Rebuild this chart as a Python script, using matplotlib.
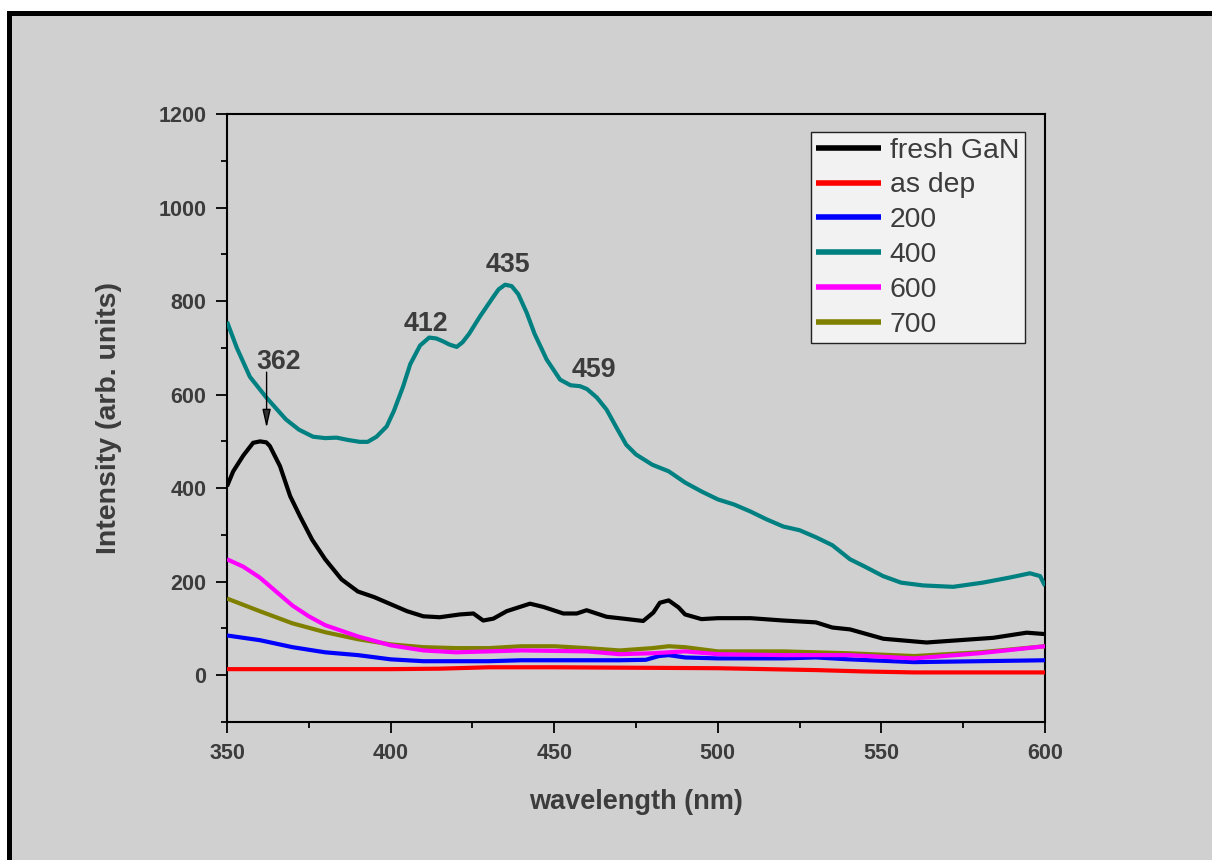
import matplotlib
matplotlib.use("Agg")
import matplotlib.pyplot as plt
from matplotlib.patches import Rectangle
from matplotlib.ticker import MultipleLocator

# ---------------- data ----------------
wl_fresh = [350, 351.9, 355, 358, 360.1, 362, 363.1, 366.2, 369.3, 372.3, 376, 380, 385, 390, 395, 400,
            405, 410, 415, 421.2, 425.3, 428.3, 431.4, 435.5, 442.6, 446.7, 452.8, 456.9, 459.9,
            466, 471.1, 477.2, 480.3, 482.3, 485, 488, 490, 495, 500, 510, 520, 530, 535, 540.4,
            550.6, 563.8, 574, 584.2, 594.4, 600]
I_fresh = [404, 436, 470, 497, 500, 498, 490, 447, 383, 340, 290, 248, 205, 179, 167, 152,
           137, 126, 124, 130, 132, 117, 121, 137, 153, 146, 132, 132, 139,
           125, 121, 116, 134, 155, 160, 145, 130, 120, 122, 122, 117, 113, 102, 98,
           78, 70, 75, 80, 91, 88]

wl_asdep = [350, 375, 400, 415, 430, 450, 475, 500, 515, 530, 545, 560, 580, 600]
I_asdep = [13, 13, 13, 14, 17, 17, 16, 15, 13, 11, 8, 6, 6, 6]

wl_200 = [350, 360, 370, 380, 390, 400, 410, 420, 430, 440, 450, 470, 478, 482, 485, 490,
          500, 520, 530, 540, 560, 580, 600]
I_200 = [85, 75, 60, 49, 43, 34, 30, 30, 30, 32, 32, 32, 33, 41, 43, 38,
         36, 36, 38, 34, 28, 30, 32]

wl_400 = [350, 353, 357, 362, 368, 372, 376.3, 380, 383.5, 387, 390.6, 393, 395.7, 398.8, 401,
          403.8, 406, 409, 411.8, 414, 416, 418, 420.2, 422, 424, 427.3, 431, 433, 435, 437, 439,
          441.6, 444, 447.7, 451.8, 455, 457.9, 460, 463, 466, 469, 472, 475, 480, 485, 490,
          495, 500, 505, 510, 515, 520, 525, 530, 535, 540.4, 545, 550.5, 556, 562.7, 571.9, 581,
          589.3, 595.4, 598.5, 600]
I_400 = [756, 700, 638, 594, 547, 525, 510, 507, 508, 503, 499, 499, 510, 532, 565,
         617, 665, 705, 722, 720, 714, 707, 702, 712, 730, 767, 805, 825, 835, 832, 815,
         775, 730, 675, 632, 620, 618, 612, 594, 568, 530, 493, 472, 450, 436, 412,
         393, 376, 365, 350, 333, 318, 310, 295, 278, 248, 232, 212, 198, 192, 189, 198,
         209, 218, 212, 191]

wl_600 = [350, 355, 360, 365, 370, 375, 380, 390, 400, 410, 420, 440, 460, 470, 480, 490,
          500, 520, 540, 560, 580, 600]
I_600 = [248, 232, 209, 179, 149, 126, 107, 83, 64, 53, 49, 53, 51, 45, 47, 51,
         45, 43, 43, 36, 47, 62]

wl_700 = [350, 360, 370, 380, 390, 400, 410, 420, 430, 440, 450, 460, 470, 480, 485, 490,
          500, 520, 540, 560, 580, 600]
I_700 = [164, 137, 111, 92, 77, 66, 60, 58, 58, 62, 62, 58, 53, 58, 62, 60,
         51, 51, 47, 41, 49, 62]

series_labels = ["fresh GaN", "as dep", "200", "400", "600", "700"]
series_colors = ["#000000", "#ff0000", "#0000ff", "#008080", "#ff00ff", "#808000"]

peak_labels = ["362", "412", "435", "459"]
peak_x = [365.7, 410.7, 436.0, 462.2]
peak_y = [655, 735, 862, 638]

x_ticks = [350, 400, 450, 500, 550, 600]
y_ticks = [0, 200, 400, 600, 800, 1000, 1200]

# ---------------- figure ----------------
W, H = 1212, 860
fig = plt.figure(figsize=(W / 100, H / 100), dpi=100, facecolor="white")
plt.rcParams["font.family"] = ["Liberation Sans", "DejaVu Sans"]

GRAY = "#d0d0d0"
TXT = "#3c3c3c"

bg = Rectangle((8.5 / W, -0.05), 1.2, 1 - 12.5 / H + 0.05, transform=fig.transFigure,
               facecolor=GRAY, edgecolor="black", linewidth=3.6, zorder=-10)
fig.patches.append(bg)

ax = fig.add_axes([227 / W, 1 - 722 / H, (1045 - 227) / W, (722 - 114) / H])
ax.set_facecolor(GRAY)

data = [(wl_fresh, I_fresh), (wl_asdep, I_asdep), (wl_200, I_200),
        (wl_400, I_400), (wl_600, I_600), (wl_700, I_700)]
order = [1, 2, 5, 4, 0, 3]
lines = {}
for i in order:
    x, y = data[i]
    ln, = ax.plot(x, y, color=series_colors[i], lw=3.0, label=series_labels[i],
                  solid_joinstyle="round", solid_capstyle="butt", zorder=3)
    lines[i] = ln

ax.set_xlim(350, 600)
ax.set_ylim(-100, 1200)
ax.set_xticks(x_ticks)
ax.set_yticks(y_ticks)
ax.xaxis.set_minor_locator(MultipleLocator(25))
ax.yaxis.set_minor_locator(MultipleLocator(100))

for s in ax.spines.values():
    s.set_linewidth(1.5)
    s.set_color("black")
ax.tick_params(which="major", direction="out", length=8, width=1.3, pad=7,
               labelsize=15.5, labelcolor=TXT, colors="black")
ax.tick_params(which="minor", direction="out", length=4, width=1.3, colors="black")
ax.tick_params(top=False, right=False, which="both")
for lab in ax.get_xticklabels() + ax.get_yticklabels():
    lab.set_fontweight("bold")

ax.set_xlabel("wavelength (nm)", fontsize=19.5, fontweight="bold", color=TXT, labelpad=18)
ax.set_ylabel("Intensity (arb. units)", fontsize=20.5, fontweight="bold", color=TXT, labelpad=26)

leg = ax.legend([lines[i] for i in range(6)], series_labels, loc="upper right",
                bbox_to_anchor=((1025 - 227) / 818, (722 - 132) / 608), borderaxespad=0,
                fontsize=20.4, frameon=True, fancybox=False, facecolor="#f2f2f2",
                edgecolor="#222222", framealpha=1, handlelength=2.3, handletextpad=0.3,
                labelspacing=0.31, borderpad=0.2, labelcolor=TXT)
leg.get_frame().set_linewidth(1.0)
for h in leg.get_lines():
    h.set_linewidth(4)

for t, x, y in zip(peak_labels, peak_x, peak_y):
    ax.text(x, y, t, fontsize=19.3, fontweight="bold", color=TXT, ha="center", va="baseline",
            zorder=5)

ax.annotate("", xy=(362.1, 529), xytext=(362.1, 648),
            arrowprops=dict(arrowstyle="-|>,head_length=1.1,head_width=0.25",
                            mutation_scale=10, fc="#333333", ec="black", lw=1.0,
                            shrinkA=0, shrinkB=0), zorder=5)

fig.savefig("out.png", dpi=100, facecolor="white")
